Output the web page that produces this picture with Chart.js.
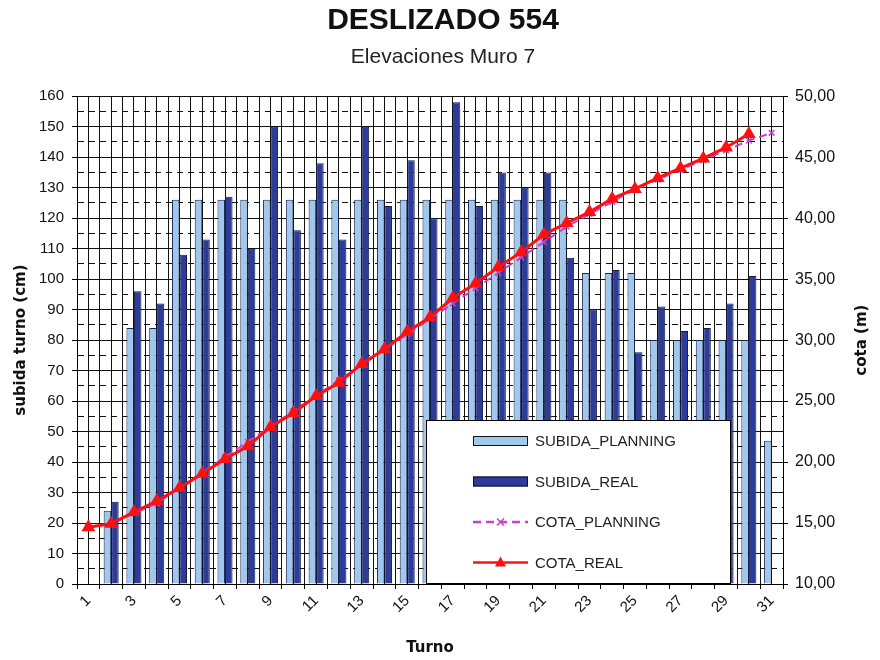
<!DOCTYPE html>
<html>
<head>
<meta charset="utf-8">
<script src="https://cdn.jsdelivr.net/npm/chart.js@4.4.1/dist/chart.umd.min.js"></script>
<style>
  html, body { margin: 0; padding: 0; background: #fff; }
</style>
</head>
<body>
<canvas id="chart" width="880" height="660"></canvas>
<script>
// turnos 1..31
const turnos = ['1','2','3','4','5','6','7','8','9','10','11','12','13','14','15','16',
                '17','18','19','20','21','22','23','24','25','26','27','28','29','30','31']

// subida por turno (cm)
const subidaPlanning = [null, 24, 84, 84, 126, 126, 126, 126, 126, 126, 126, 126, 126, 126, 126, 126,
                        126, 126, 126, 126, 126, 126, 102, 102, 102, 80, 80, 80, 80, 80, 47]
const subidaReal = [null, 27, 96, 92, 108, 113, 127, 110, 150, 116, 138, 113, 150, 124, 139, 120,
                    158, 124, 135, 130, 135, 107, 90, 103, 76, 91, 83, 84, 92, 101, null]

// cota (m)
const cotaPlanning = [14.7, 14.94, 15.78, 16.62, 17.88, 19.14, 20.4, 21.66, 22.92, 24.18, 25.44, 26.7,
                      27.96, 29.22, 30.48, 31.74, 33.0, 34.26, 35.52, 36.78, 38.04, 39.3, 40.32, 41.34,
                      42.36, 43.16, 43.96, 44.76, 45.56, 46.36, 47.0]
const cotaReal = [14.65, 14.95, 15.9, 16.8, 17.88, 19.05, 20.25, 21.3, 22.88, 24.02, 25.42, 26.5,
                  28.05, 29.25, 30.68, 31.88, 33.45, 34.65, 36.0, 37.2, 38.65, 39.6, 40.5, 41.6,
                  42.4, 43.3, 44.1, 44.9, 45.8, 46.9, null]

const LIGHT = '#a0c8ec'
const DARK = '#2c3c98'
const MAGENTA = '#cc3fcc'
const RED = '#ff1010'

// legend box drawn inside the plot, bottom right (like the excel one)
const boxLegend = {
    id: 'boxLegend',
    afterDatasetsDraw(chart) {
        const ctx = chart.ctx
        const ca = chart.chartArea
        const w = ca.right - ca.left
        const h = ca.bottom - ca.top
        const x0 = Math.round(ca.left + 0.495 * w)
        const x1 = Math.round(ca.left + 0.927 * w)
        const y0 = Math.round(ca.top + 0.664 * h)
        const y1 = Math.round(ca.bottom)
        ctx.save()
        ctx.fillStyle = '#fff'
        ctx.fillRect(x0, y0, x1 - x0, y1 - y0)
        ctx.strokeStyle = '#000'
        ctx.lineWidth = 1
        ctx.strokeRect(x0 + 0.5, y0 + 0.5, x1 - x0 - 1, y1 - y0 - 1)

        ctx.font = '15px "Liberation Sans", Arial, sans-serif'
        ctx.textBaseline = 'middle'
        ctx.textAlign = 'left'
        chart.data.datasets.forEach((ds, i) => {
            const cy = y0 + 21 + i * 40.5
            const sx = x0 + 47
            const sw = 55
            if (ds.type === 'bar') {
                ctx.fillStyle = ds.backgroundColor
                ctx.fillRect(sx, cy - 5, sw, 10)
                ctx.strokeStyle = '#111'
                ctx.strokeRect(sx + 0.5, cy - 4.5, sw - 1, 9)
            } else {
                ctx.strokeStyle = ds.borderColor
                ctx.lineWidth = 2.5
                ctx.setLineDash(ds.borderDash || [])
                ctx.beginPath()
                ctx.moveTo(sx, cy)
                ctx.lineTo(sx + sw, cy)
                ctx.stroke()
                ctx.setLineDash([])
                const mx = sx + sw / 2
                if (ds.pointStyle === 'triangle') {
                    ctx.fillStyle = ds.borderColor
                    ctx.beginPath()
                    ctx.moveTo(mx, cy - 6)
                    ctx.lineTo(mx + 5.5, cy + 4)
                    ctx.lineTo(mx - 5.5, cy + 4)
                    ctx.closePath()
                    ctx.fill()
                } else {
                    ctx.lineWidth = 1.5
                    ctx.beginPath()
                    ctx.moveTo(mx - 3.5, cy - 3.5); ctx.lineTo(mx + 3.5, cy + 3.5)
                    ctx.moveTo(mx + 3.5, cy - 3.5); ctx.lineTo(mx - 3.5, cy + 3.5)
                    ctx.stroke()
                }
            }
            ctx.fillStyle = '#222'
            ctx.fillText(ds.label, x0 + 109, cy + 1)
        })
        ctx.restore()
    },
    afterDraw(chart) {
        // right axis title, reading bottom to top
        const s = chart.scales.y1
        const ctx = chart.ctx
        ctx.save()
        ctx.translate(862, (s.top + s.bottom) / 2)
        ctx.rotate(-Math.PI / 2)
        ctx.font = 'bold 15px "DejaVu Sans", sans-serif'
        ctx.fillStyle = '#111'
        ctx.textAlign = 'center'
        ctx.textBaseline = 'middle'
        ctx.fillText('cota (m)', 0, 0)
        ctx.restore()
    },
}

const tickFont = { family: '"Liberation Sans", Arial, sans-serif', size: 15 }

new Chart(document.getElementById('chart'), {
    data: {
        labels: turnos,
        datasets: [
            {
                type: 'bar',
                label: 'SUBIDA_PLANNING',
                data: subidaPlanning,
                backgroundColor: LIGHT,
                borderColor: '#1c2450',
                borderWidth: 1,
                yAxisID: 'y',
                order: 3,
            },
            {
                type: 'bar',
                label: 'SUBIDA_REAL',
                data: subidaReal,
                backgroundColor: DARK,
                borderColor: '#141a40',
                borderWidth: 1,
                yAxisID: 'y',
                order: 3,
            },
            {
                type: 'line',
                label: 'COTA_PLANNING',
                data: cotaPlanning,
                borderColor: MAGENTA,
                backgroundColor: MAGENTA,
                borderWidth: 2,
                borderDash: [8, 5],
                pointStyle: 'crossRot',
                pointRadius: 4,
                pointBorderWidth: 1.5,
                yAxisID: 'y1',
                order: 2,
            },
            {
                type: 'line',
                label: 'COTA_REAL',
                data: cotaReal,
                borderColor: RED,
                backgroundColor: RED,
                borderWidth: 3,
                pointStyle: 'triangle',
                pointRadius: 5,
                yAxisID: 'y1',
                order: 1,
            },
        ],
    },
    options: {
        responsive: false,
        animation: false,
        devicePixelRatio: 1,
        layout: { padding: { left: 6, right: 0, top: 0, bottom: 0 } },
        datasets: {
            bar: { categoryPercentage: 0.66, barPercentage: 1.0 },
        },
        plugins: {
            legend: { display: false },
            tooltip: { enabled: false },
            title: {
                display: true,
                text: 'DESLIZADO 554',
                color: '#111',
                font: { family: '"Liberation Sans", Arial, sans-serif', size: 30, weight: 'bold' },
                padding: { top: 3, bottom: 0 },
            },
            subtitle: {
                display: true,
                text: 'Elevaciones Muro 7',
                color: '#222',
                font: { family: '"Liberation Sans", Arial, sans-serif', size: 21 },
                padding: { top: 6, bottom: 26 },
            },
        },
        scales: {
            x: {
                type: 'category',
                position: 'bottom',
                afterFit: (s) => { s.height = 76 },
                grid: { offset: true, drawOnChartArea: false, tickLength: 5, color: '#000' },
                border: { color: '#000' },
                ticks: {
                    autoSkip: false,
                    minRotation: 45,
                    maxRotation: 45,
                    padding: 3,
                    color: '#111',
                    font: { family: '"Liberation Sans", Arial, sans-serif', size: 15 },
                    callback: (v, i) => (i % 2 === 0 ? turnos[i] : ''),
                },
                title: {
                    display: true,
                    text: 'Turno',
                    color: '#111',
                    font: { family: '"DejaVu Sans", sans-serif', size: 15, weight: 'bold' },
                    padding: { top: 0, bottom: 3 },
                },
            },
            xg: {
                type: 'linear',
                position: 'bottom',
                min: -0.5,
                max: 30.5,
                ticks: { display: false, stepSize: 0.5, maxTicksLimit: 200 },
                grid: { color: '#111', drawTicks: false, lineWidth: 1 },
                border: { display: false },
            },
            y: {
                position: 'left',
                min: 0,
                max: 160,
                afterFit: (s) => { s.width = 71 },
                ticks: {
                    stepSize: 5,
                    autoSkip: false,
                    maxTicksLimit: 100,
                    padding: 8,
                    color: '#111',
                    font: tickFont,
                    callback: (v) => (v % 10 === 0 ? v : ''),
                },
                grid: {
                    color: '#111',
                    lineWidth: 1,
                    tickLength: 5,
                    tickColor: (c) => (c.tick && c.tick.value % 10 === 0 ? '#000' : 'rgba(0,0,0,0)'),
                },
                border: {
                    color: '#000',
                    dash: (c) => (c.tick && c.tick.value % 10 !== 0 ? [6, 5] : []),
                },
                title: {
                    display: true,
                    text: 'subida turno (cm)',
                    color: '#111',
                    font: { family: '"DejaVu Sans", sans-serif', size: 15, weight: 'bold' },
                    padding: { top: 6, bottom: 0 },
                },
            },
            y1: {
                position: 'right',
                min: 10,
                max: 50,
                afterFit: (s) => { s.width = 97 },
                ticks: {
                    stepSize: 5,
                    padding: 7,
                    color: '#111',
                    font: { family: '"Liberation Sans", Arial, sans-serif', size: 16 },
                    callback: (v) => v.toFixed(2).replace('.', ','),
                },
                grid: { drawOnChartArea: false, tickLength: 5, color: '#000' },
                border: { color: '#000' },
            },
        },
    },
    plugins: [boxLegend],
})
</script>
</body>
</html>
